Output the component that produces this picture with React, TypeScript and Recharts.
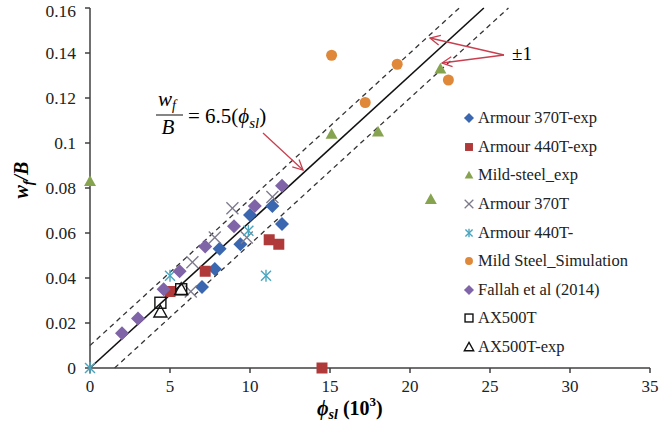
import React from "react";
import {
  ScatterChart,
  Scatter,
  XAxis,
  YAxis,
  ReferenceLine,
} from "recharts";

type Pt = { x: number; y: number };

const xTicks = [0, 5, 10, 15, 20, 25, 30, 35];
const yTicks = [0, 0.02, 0.04, 0.06, 0.08, 0.1, 0.12, 0.14, 0.16];

// fitted line w_f/B = 6.5 * phi_sl (phi in 10^3), band of +-1 (0.01)
const slope = 0.0065;
const band = 0.01;
const yMax = 0.16;

const armour370TExp: Pt[] = [
  { x: 7.0, y: 0.036 },
  { x: 7.8, y: 0.044 },
  { x: 8.1, y: 0.053 },
  { x: 9.4, y: 0.055 },
  { x: 10.0, y: 0.068 },
  { x: 11.4, y: 0.072 },
  { x: 12.0, y: 0.064 },
];
const armour440TExp: Pt[] = [
  { x: 5.0, y: 0.034 },
  { x: 7.2, y: 0.043 },
  { x: 11.2, y: 0.057 },
  { x: 11.8, y: 0.055 },
  { x: 14.5, y: 0 },
];
const mildSteelExp: Pt[] = [
  { x: 0, y: 0.083 },
  { x: 15.1, y: 0.104 },
  { x: 18.0, y: 0.105 },
  { x: 21.3, y: 0.075 },
  { x: 21.9, y: 0.133 },
];
const armour370T: Pt[] = [
  { x: 6.4, y: 0.047 },
  { x: 6.3, y: 0.034 },
  { x: 7.8, y: 0.058 },
  { x: 8.9, y: 0.071 },
  { x: 9.8, y: 0.058 },
  { x: 11.4, y: 0.076 },
];
const armour440T: Pt[] = [
  { x: 0, y: 0 },
  { x: 5.0, y: 0.041 },
  { x: 9.9, y: 0.061 },
  { x: 11.0, y: 0.041 },
];
const mildSteelSim: Pt[] = [
  { x: 15.1, y: 0.139 },
  { x: 17.2, y: 0.118 },
  { x: 19.2, y: 0.135 },
  { x: 22.4, y: 0.128 },
];
const fallah2014: Pt[] = [
  { x: 2.0, y: 0.0155 },
  { x: 3.0, y: 0.022 },
  { x: 4.6, y: 0.035 },
  { x: 5.6, y: 0.043 },
  { x: 7.2, y: 0.054 },
  { x: 9.0, y: 0.063 },
  { x: 10.3, y: 0.072 },
  { x: 12.0, y: 0.081 },
];
const ax500T: Pt[] = [
  { x: 4.4, y: 0.029 },
  { x: 5.7, y: 0.035 },
];
const ax500TExp: Pt[] = [
  { x: 4.4, y: 0.025 },
  { x: 5.7, y: 0.035 },
];

const SERIF = "'Liberation Serif', 'Times New Roman', serif";
const AXIS = "#404040";
const ARROW = "#c8404f";

type Kind = "diamond" | "square" | "triangle" | "x" | "star" | "circle" | "osquare" | "otriangle";

function Marker({ kind, cx, cy, color, s = 1 }: { kind: Kind; cx: number; cy: number; color: string; s?: number }) {
  switch (kind) {
    case "diamond": {
      const a = 7 * s;
      return <polygon points={`${cx},${cy - a} ${cx + a},${cy} ${cx},${cy + a} ${cx - a},${cy}`} fill={color} />;
    }
    case "square": {
      const a = 5.5 * s;
      return <rect x={cx - a} y={cy - a} width={2 * a} height={2 * a} fill={color} />;
    }
    case "triangle": {
      const a = 6 * s;
      return <polygon points={`${cx},${cy - a} ${cx + a},${cy + a * 0.8} ${cx - a},${cy + a * 0.8}`} fill={color} />;
    }
    case "circle":
      return <circle cx={cx} cy={cy} r={5.5 * s} fill={color} />;
    case "x": {
      const a = 6 * s;
      return (
        <g stroke={color} strokeWidth={1.3}>
          <line x1={cx - a} y1={cy - a} x2={cx + a} y2={cy + a} />
          <line x1={cx - a} y1={cy + a} x2={cx + a} y2={cy - a} />
        </g>
      );
    }
    case "star": {
      const a = 5 * s;
      return (
        <g stroke={color} strokeWidth={1.4}>
          <line x1={cx - a} y1={cy - a} x2={cx + a} y2={cy + a} />
          <line x1={cx - a} y1={cy + a} x2={cx + a} y2={cy - a} />
          <line x1={cx} y1={cy - a * 1.2} x2={cx} y2={cy + a * 1.2} />
        </g>
      );
    }
    case "osquare": {
      const a = 5.5 * s;
      return <rect x={cx - a} y={cy - a} width={2 * a} height={2 * a} fill="none" stroke={color} strokeWidth={1.4} />;
    }
    case "otriangle": {
      const a = 6.5 * s;
      return (
        <polygon
          points={`${cx},${cy - a} ${cx + a},${cy + a * 0.8} ${cx - a},${cy + a * 0.8}`}
          fill="none"
          stroke={color}
          strokeWidth={1.4}
        />
      );
    }
  }
  return null;
}

const series: { name: string; data: Pt[]; kind: Kind; color: string }[] = [
  { name: "Armour 370T-exp", data: armour370TExp, kind: "diamond", color: "#3a67b0" },
  { name: "Armour 440T-exp", data: armour440TExp, kind: "square", color: "#b03a3a" },
  { name: "Mild-steel_exp", data: mildSteelExp, kind: "triangle", color: "#86a34f" },
  { name: "Armour 370T", data: armour370T, kind: "x", color: "#7d7a8c" },
  { name: "Armour 440T-", data: armour440T, kind: "star", color: "#4aa6bf" },
  { name: "Mild Steel_Simulation", data: mildSteelSim, kind: "circle", color: "#e0883a" },
  { name: "Fallah et al (2014)", data: fallah2014, kind: "diamond", color: "#8064a8" },
  { name: "AX500T", data: ax500T, kind: "osquare", color: "#111111" },
  { name: "AX500T-exp", data: ax500TExp, kind: "otriangle", color: "#111111" },
];

function LegendBox() {
  return (
    <div
      style={{
        position: "absolute",
        left: 461,
        top: 104,
        fontFamily: SERIF,
        fontSize: 16.5,
        color: "#222",
        lineHeight: "16px",
      }}
    >
      {series.map((s) => (
        <div key={s.name} style={{ display: "flex", alignItems: "center", height: 28.6 }}>
          <svg width={16} height={16} style={{ marginRight: 1 }}>
            <Marker kind={s.kind} cx={8} cy={8} color={s.color} s={0.72} />
          </svg>
          <span>{s.name}</span>
        </div>
      ))}
    </div>
  );
}

export default function App() {
  return (
    <div style={{ position: "relative", width: 660, height: 425, background: "#fff" }}>
      <style>{`body{margin:0}`}</style>
      <ScatterChart width={660} height={425} margin={{ top: 8, right: 10, bottom: 17, left: 0 }}>
        <XAxis
          type="number"
          dataKey="x"
          domain={[0, 35]}
          ticks={xTicks}
          height={40}
          tickSize={5}
          tickMargin={7}
          stroke={AXIS}
          strokeWidth={1.5}
          tick={{ fill: "#222", fontSize: 17, fontFamily: SERIF }}
        />
        <YAxis
          type="number"
          dataKey="y"
          domain={[0, yMax]}
          ticks={yTicks}
          width={90}
          tickSize={5}
          tickMargin={9}
          stroke={AXIS}
          strokeWidth={1.5}
          tick={{ fill: "#222", fontSize: 17.5, fontFamily: SERIF }}
        />
        <ReferenceLine
          segment={[{ x: 0, y: band }, { x: (yMax - band) / slope, y: yMax }]}
          stroke="#333"
          strokeWidth={1.3}
          strokeDasharray="5 4"
        />
        <ReferenceLine
          segment={[{ x: band / slope, y: 0 }, { x: (yMax + band) / slope, y: yMax }]}
          stroke="#333"
          strokeWidth={1.3}
          strokeDasharray="5 4"
        />
        <ReferenceLine
          segment={[{ x: 0, y: 0 }, { x: yMax / slope, y: yMax }]}
          stroke="#111"
          strokeWidth={1.6}
        />
        {series.map((s) => (
          <Scatter
            key={s.name}
            name={s.name}
            data={s.data}
            isAnimationActive={false}
            shape={(p: any) => <Marker kind={s.kind} cx={p.cx} cy={p.cy} color={s.color} />}
          />
        ))}
      </ScatterChart>
      <LegendBox />
      <svg
        width={660}
        height={425}
        style={{ position: "absolute", left: 0, top: 0, pointerEvents: "none" }}
        fontFamily={SERIF}
      >
        <defs>
          <marker id="head" markerWidth={12} markerHeight={12} refX={11} refY={6} orient="auto" markerUnits="userSpaceOnUse">
            <path d="M1,1 L11,6 L1,11" fill="none" stroke={ARROW} strokeWidth={1.3} />
          </marker>
        </defs>
        {/* equation */}
        <text x={167} y={106} fontSize={21} fontStyle="italic" textAnchor="middle">
          w<tspan fontSize={14} dy={4}>f</tspan>
        </text>
        <line x1={156} y1={115} x2={183} y2={115} stroke="#222" strokeWidth={1.1} />
        <text x={168} y={134} fontSize={21} fontStyle="italic" textAnchor="middle">B</text>
        <text x={188} y={123} fontSize={21}>
          = 6.5(<tspan fontStyle="italic">ϕ</tspan>
          <tspan fontSize={15} dy={5} fontStyle="italic">sl</tspan>
          <tspan dy={-5}>)</tspan>
        </text>
        <line x1={263} y1={133} x2={303} y2={170} stroke={ARROW} strokeWidth={1.3} markerEnd="url(#head)" />
        {/* +-1 */}
        <text x={512} y={60} fontSize={19}>±1</text>
        <line x1={504} y1={55} x2={430} y2={38} stroke={ARROW} strokeWidth={1.3} markerEnd="url(#head)" />
        <line x1={504} y1={55} x2={442} y2={63} stroke={ARROW} strokeWidth={1.3} markerEnd="url(#head)" />
        {/* axis titles */}
        <text
          x={28}
          y={180}
          fontSize={20}
          fontWeight="bold"
          fontStyle="italic"
          textAnchor="middle"
          transform="rotate(-90 28 180)"
        >
          w<tspan fontSize={14} dy={5}>f</tspan>
          <tspan dy={-5}>/B</tspan>
        </text>
        <text x={317} y={415} fontSize={20} fontWeight="bold">
          <tspan fontStyle="italic">ϕ</tspan>
          <tspan fontSize={14} dy={4} fontStyle="italic">sl</tspan>
          <tspan dy={-4}> (10</tspan>
          <tspan fontSize={13} dy={-9}>3</tspan>
          <tspan dy={9}>)</tspan>
        </text>
      </svg>
    </div>
  );
}
